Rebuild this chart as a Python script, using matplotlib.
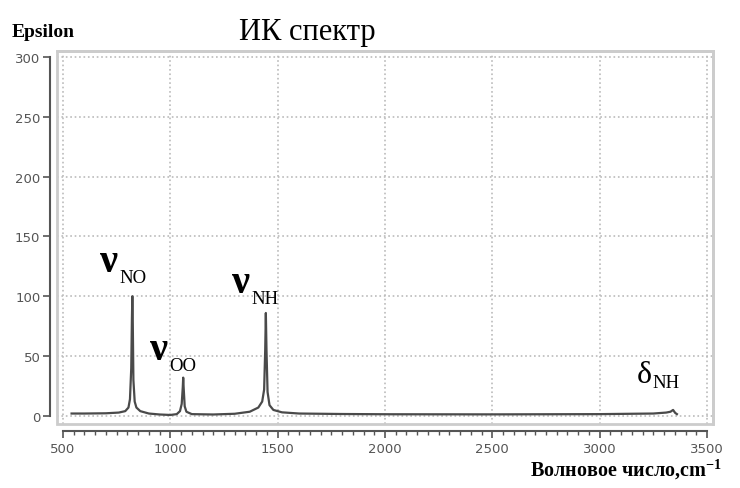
import numpy as np
import matplotlib.pyplot as plt
from matplotlib.patches import Rectangle
from matplotlib.ticker import MultipleLocator

plt.rcParams['mathtext.fontset'] = 'custom'
plt.rcParams['mathtext.rm'] = 'Liberation Serif'
plt.rcParams['mathtext.bf'] = 'Liberation Serif:bold'

# Spectrum
wavenumber = [540, 600, 700, 760, 790, 805, 812, 818, 821, 823, 825, 828, 834, 842, 860,
              900, 950, 1000, 1030, 1045, 1053, 1058, 1060, 1062, 1067, 1075, 1100,
              1200, 1300, 1370, 1410, 1428, 1437, 1442, 1445, 1448, 1453, 1462, 1480,
              1520, 1600, 1800, 2000, 2500, 3000, 3250, 3310, 3330, 3342, 3352, 3360]
epsilon = [2.0, 2.0, 2.2, 2.8, 4.0, 7.0, 14.0, 40.0, 80.0, 100.0, 80.0, 30.0, 12.0, 7.0, 4.0,
           2.0, 1.2, 0.8, 1.5, 4.0, 10.0, 24.0, 32.0, 24.0, 8.0, 3.5, 1.5,
           1.2, 1.8, 3.5, 7.0, 12.0, 22.0, 55.0, 86.0, 55.0, 20.0, 9.0, 5.0,
           3.0, 2.0, 1.6, 1.4, 1.3, 1.5, 2.0, 2.8, 3.5, 5.0, 2.5, 1.5]

# Band labels: greek letter, subscript, and where the letter's baseline starts
band_greek = ['ν', 'ν', 'ν', 'δ']
band_sub = ['NO', 'OO', 'NH', 'NH']
band_x = [672, 905, 1287, 3174]
band_y = [121, 47.5, 103.5, 28.5]

serif = 'Liberation Serif'

fig = plt.figure(figsize=(7.4, 4.89), dpi=100)
ax = fig.add_axes([0.077, 0.131, 0.8865, 0.763])

ax.plot(wavenumber, epsilon, color='#4a4a4a', lw=1.6, zorder=3)

ax.set_xlim(472, 3528)
ax.set_ylim(-6.7, 305)

# detached axis lines like the original software
for side in ['left', 'bottom']:
    ax.spines[side].set_position(('outward', 5))
    ax.spines[side].set_color('#555555')
    ax.spines[side].set_linewidth(1.5)
ax.spines['left'].set_bounds(0, 300)
ax.spines['bottom'].set_bounds(500, 3500)
for side in ['top', 'right']:
    ax.spines[side].set_color('#cccccc')
    ax.spines[side].set_linewidth(2)
ax.add_patch(Rectangle((0, 0), 1, 1, transform=ax.transAxes, fill=False,
                       edgecolor='#cccccc', lw=2, clip_on=False, zorder=1))

ax.set_yticks(np.arange(0, 301, 50))
ax.set_xticks(np.arange(500, 3501, 500))
ax.xaxis.set_minor_locator(MultipleLocator(50))
ax.tick_params(axis='both', which='major', colors='#555555', labelcolor='#555555',
               labelsize=9.5, length=5, width=1.2)
ax.tick_params(axis='x', which='minor', colors='#555555', length=3, width=1)
ax.tick_params(axis='x', pad=3)
ax.tick_params(axis='y', pad=2)
for lab in ax.get_xticklabels() + ax.get_yticklabels():
    lab.set_family('DejaVu Sans')

ax.grid(True, which='major', linestyle=':', color='#bbbbbb', lw=1.2)
ax.set_axisbelow(True)

for g, s, x, y in zip(band_greek, band_sub, band_x, band_y):
    if g == 'δ':
        ax.text(x, y, g, family=serif, fontsize=23, ha='left', va='baseline', zorder=4)
        dx, dy = 11, -3.5
    else:
        ax.text(x, y, g, family=serif, weight='bold', fontsize=29,
                ha='left', va='baseline', zorder=4)
        dx, dy = 14, -8
    ax.annotate(s, (x, y), xytext=(dx, dy), textcoords='offset points',
                family=serif, fontsize=13.5, ha='left', va='baseline', zorder=4)

fig.text(0.415, 0.918, 'ИК спектр', family=serif, fontsize=22,
         ha='center', va='baseline')
fig.text(0.016, 0.924, 'Epsilon', family=serif, fontsize=14, weight='bold',
         ha='left', va='baseline')
fig.text(0.976, 0.026, 'Волновое число,cm$^{\\mathbf{-1}}$', family=serif,
         fontsize=14.5, weight='bold', ha='right', va='baseline')

fig.savefig('out.png', dpi=100)
